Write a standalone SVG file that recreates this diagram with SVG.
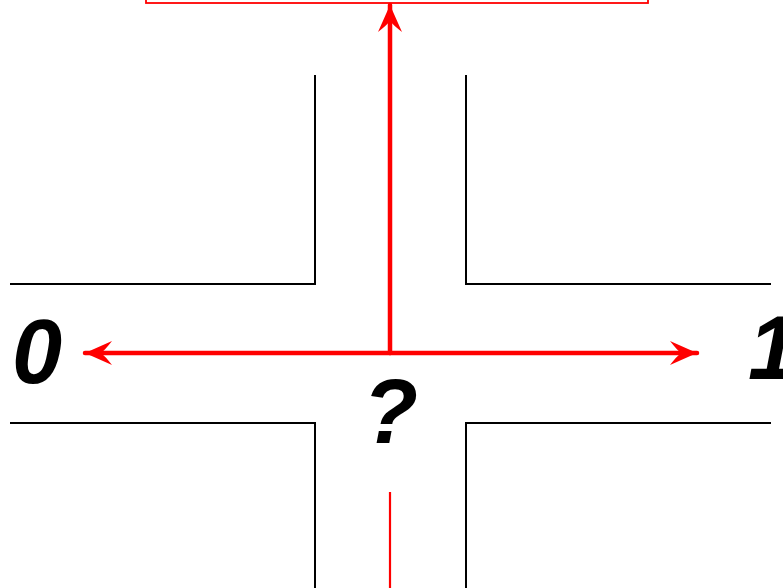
<svg xmlns="http://www.w3.org/2000/svg" width="783" height="588" viewBox="0 0 783 588">
<style>
.wall{fill:none;stroke:#000;stroke-width:2}
.arr{fill:none;stroke:#ff0000;stroke-width:4.5;stroke-linecap:round}
.lbl{font-family:"Liberation Sans",Arial,sans-serif;font-weight:bold;font-style:italic;font-size:90px;fill:#000}
</style>
<defs>
<marker id="ah" viewBox="-30 -14 34 28" refX="0" refY="0" markerWidth="34" markerHeight="28" markerUnits="userSpaceOnUse" orient="auto">
<path d="M0,0 L-27,-12 Q-20,-3 -16,0 Q-20,3 -27,12 Z" fill="#ff0000"/>
</marker>
</defs>
<rect width="783" height="588" fill="#fff"/>
<g id="walls">
<path class="wall" d="M10,284 H315 V75"/>
<path class="wall" d="M771,284 H466 V75"/>
<path class="wall" d="M10,423 H315 V588"/>
<path class="wall" d="M771,423 H466 V588"/>
</g>
<g id="target">
<rect x="146" y="-10" width="502" height="13" fill="none" stroke="#ff0000" stroke-width="1.8"/>
</g>
<g id="connectors">
<line class="arr" x1="390" y1="353" x2="390" y2="5" marker-end="url(#ah)"/>
<line class="arr" x1="390" y1="353" x2="85" y2="353" marker-end="url(#ah)"/>
<line class="arr" x1="390" y1="353" x2="697" y2="353" marker-end="url(#ah)"/>
<line x1="390" y1="492" x2="390" y2="588" stroke="#ff0000" stroke-width="2.2"/>
</g>
<g id="label0"><text class="lbl" x="12" y="383">0</text></g>
<g id="label1"><text class="lbl" x="748" y="379">1</text></g>
<g id="labelq"><text class="lbl" x="363" y="443">?</text></g>
</svg>
